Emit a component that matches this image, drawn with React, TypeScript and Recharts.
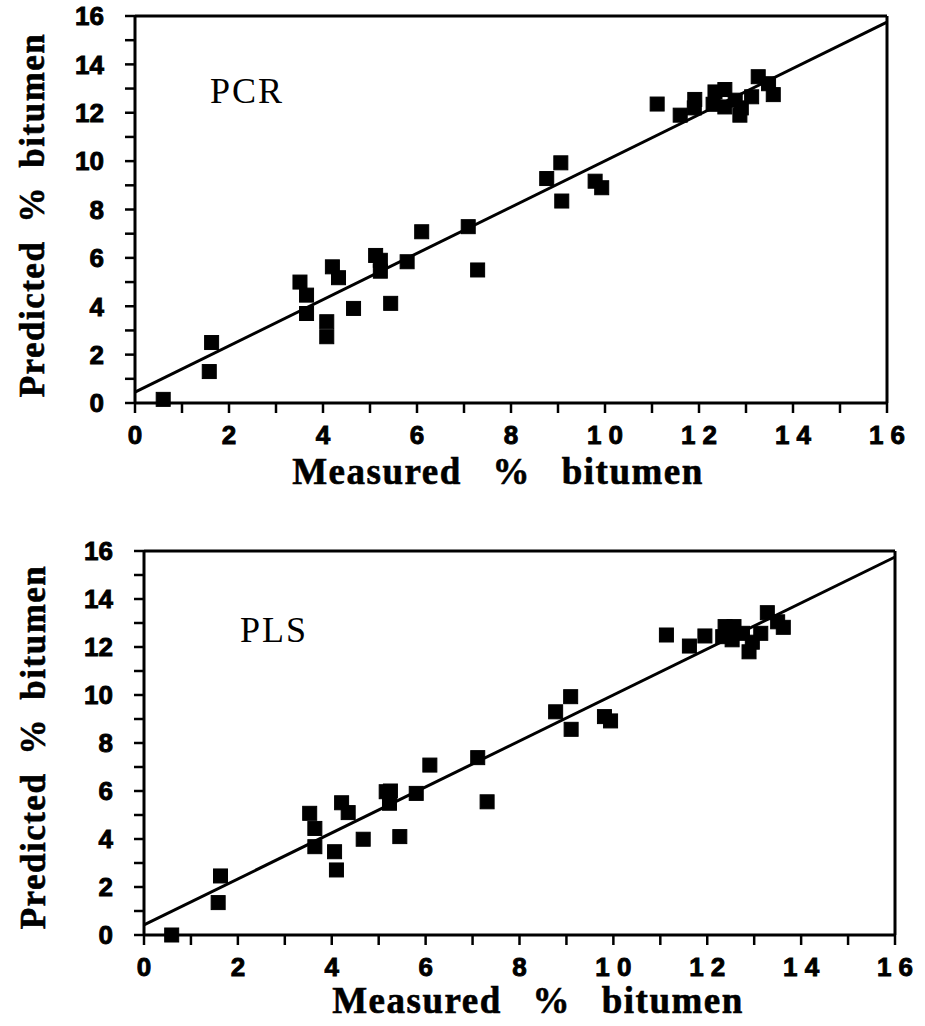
import { ScatterChart, Scatter, XAxis, YAxis, ReferenceLine } from "recharts";

// tick positions shared by both panels (labels only on even values)
const axisTicks = [0, 1, 2, 3, 4, 5, 6, 7, 8, 9, 10, 11, 12, 13, 14, 15, 16];

// PCR panel (top)
const pcrMeasured = [
  0.6, 1.58, 1.63, 3.51, 3.65, 3.65, 4.08, 4.08, 4.2, 4.33, 4.65, 5.12, 5.22, 5.22, 5.44, 5.79, 6.1,
  7.09, 7.29, 8.76, 9.06, 9.08, 9.79, 9.93, 11.11, 11.6, 11.91, 11.9, 12.3, 12.34, 12.55, 12.55,
  12.77, 12.9, 12.87, 13.12, 13.26, 13.48, 13.58,
];
const pcrPredicted = [
  0.15, 1.3, 2.5, 5.0, 4.46, 3.7, 3.36, 2.74, 5.63, 5.18, 3.91, 6.1, 5.9, 5.45, 4.12, 5.84, 7.08,
  7.29, 5.5, 9.28, 9.93, 8.35, 9.17, 8.9, 12.36, 11.9, 12.55, 12.2, 12.35, 12.86, 12.96, 12.24,
  12.52, 12.2, 11.9, 12.66, 13.49, 13.2, 12.75,
];
const pcrFit = [
  { x: 0, y: 0.45 },
  { x: 16, y: 15.75 },
];

// PLS panel (bottom)
const plsMeasured = [
  0.59, 1.58, 1.63, 3.53, 3.64, 3.64, 4.06, 4.1, 4.21, 4.35, 4.67, 5.16, 5.25, 5.23, 5.45, 5.8, 6.09,
  7.11, 7.31, 8.77, 9.09, 9.1, 9.81, 9.94, 11.13, 11.62, 11.95, 12.33, 12.38, 12.57, 12.53, 12.75,
  12.96, 12.89, 13.14, 13.28, 13.5, 13.62,
];
const plsPredicted = [
  0.0, 1.35, 2.46, 5.07, 4.44, 3.68, 3.47, 2.71, 5.51, 5.1, 3.99, 5.97, 6.0, 5.49, 4.1, 5.9, 7.08,
  7.39, 5.55, 9.3, 9.93, 8.57, 9.1, 8.92, 12.5, 12.04, 12.46, 12.43, 12.85, 12.85, 12.3, 12.57,
  12.2, 11.8, 12.57, 13.43, 13.05, 12.82,
];
const plsFit = [
  { x: 0, y: 0.42 },
  { x: 16, y: 15.75 },
];

const tickFont = {
  fontFamily: "'Liberation Sans', Arial, sans-serif",
  fontWeight: 700,
  fontSize: 26,
  fill: "#000",
  stroke: "#000",
  strokeWidth: 0.9,
};
const labelFont = {
  fontFamily: "'Liberation Serif', 'Times New Roman', serif",
  fontWeight: 700,
  fontSize: 37,
  fill: "#000",
  stroke: "#000",
  strokeWidth: 0.6,
};

const XTick = (props: any) => {
  const { x, y, payload } = props;
  if (payload.value % 2 !== 0) return <g />;
  return (
    <text x={x} y={y} dy="0.71em" textAnchor="middle" style={tickFont}>
      {String(payload.value).split("").join(" ")}
    </text>
  );
};

const YTick = (props: any) => {
  const { x, y, payload } = props;
  if (payload.value % 2 !== 0) return <g />;
  return (
    <text x={x - 6} y={y} dy="0.36em" textAnchor="end" style={tickFont}>
      {payload.value}
    </text>
  );
};

const SquareDot = (props: any) => {
  const { cx, cy } = props;
  if (cx == null || cy == null) return <g />;
  return <rect x={cx - 7} y={cy - 7} width={14} height={14} fill="#000" stroke="#000" strokeWidth={1} />;
};

interface PanelProps {
  top: number;
  height: number;
  margin: { top: number; right: number; left: number; bottom: number };
  yAxisWidth: number;
  xAxisHeight: number;
  xTickMargin: number;
  measured: number[];
  predicted: number[];
  fit: { x: number; y: number }[];
  name: string;
  nameX: number;
  nameY: number;
  yLabelX: number;
  yLabelY: number;
  xLabelX: number;
  xLabelY: number;
}

function Panel(p: PanelProps) {
  const points = p.measured.map((m, i) => ({ x: m, y: p.predicted[i] }));
  return (
    <div style={{ position: "absolute", left: 0, top: p.top }}>
      <ScatterChart width={925} height={p.height} margin={p.margin}>
        <XAxis
          type="number"
          dataKey="x"
          domain={[0, 16]}
          ticks={axisTicks}
          interval={0}
          height={p.xAxisHeight}
          axisLine={{ stroke: "#000", strokeWidth: 3 }}
          tickLine={{ stroke: "#000", strokeWidth: 2.5 }}
          tickSize={10}
          tickMargin={p.xTickMargin}
          tick={<XTick />}
        />
        <YAxis
          type="number"
          dataKey="y"
          domain={[0, 16]}
          ticks={axisTicks}
          interval={0}
          width={p.yAxisWidth}
          axisLine={{ stroke: "#000", strokeWidth: 3 }}
          tickLine={{ stroke: "#000", strokeWidth: 2.5 }}
          tickSize={10}
          tickMargin={15}
          tick={<YTick />}
        />
        <ReferenceLine y={16} stroke="#000" strokeWidth={3} />
        <ReferenceLine x={16} stroke="#000" strokeWidth={3} />
        <ReferenceLine segment={p.fit} stroke="#000" strokeWidth={3} />
        <Scatter data={points} shape={<SquareDot />} isAnimationActive={false} />
        <text
          x={p.nameX}
          y={p.nameY}
          style={{ fontFamily: "'Liberation Serif', serif", fontSize: 36, letterSpacing: 2, fill: "#000" }}
        >
          {p.name}
        </text>
        <text
          x={p.xLabelX}
          y={p.xLabelY}
          textAnchor="middle"
          style={{ ...labelFont, letterSpacing: 1.5, wordSpacing: 20 }}
        >
          Measured % bitumen
        </text>
        <text
          x={p.yLabelX}
          y={p.yLabelY}
          textAnchor="middle"
          dominantBaseline="central"
          transform={`rotate(-90 ${p.yLabelX} ${p.yLabelY})`}
          style={{ ...labelFont, fontSize: 35, letterSpacing: 1.5, wordSpacing: 8 }}
        >
          Predicted % bitumen
        </text>
      </ScatterChart>
    </div>
  );
}

export default function App() {
  return (
    <div style={{ position: "absolute", left: 0, top: 0, width: 925, height: 1026, background: "#fff" }}>
      <Panel
        top={0}
        height={510}
        margin={{ top: 16, right: 38, left: 0, bottom: 0 }}
        yAxisWidth={135}
        xAxisHeight={107}
        xTickMargin={13}
        measured={pcrMeasured}
        predicted={pcrPredicted}
        fit={pcrFit}
        name="PCR"
        nameX={210}
        nameY={103}
        yLabelX={32}
        yLabelY={215}
        xLabelX={498}
        xLabelY={484}
      />
      <Panel
        top={520}
        height={506}
        margin={{ top: 31, right: 30, left: 0, bottom: 0 }}
        yAxisWidth={144}
        xAxisHeight={91}
        xTickMargin={13}
        measured={plsMeasured}
        predicted={plsPredicted}
        fit={plsFit}
        name="PLS"
        nameX={240}
        nameY={122}
        yLabelX={33}
        yLabelY={227}
        xLabelX={538}
        xLabelY={493}
      />
    </div>
  );
}
